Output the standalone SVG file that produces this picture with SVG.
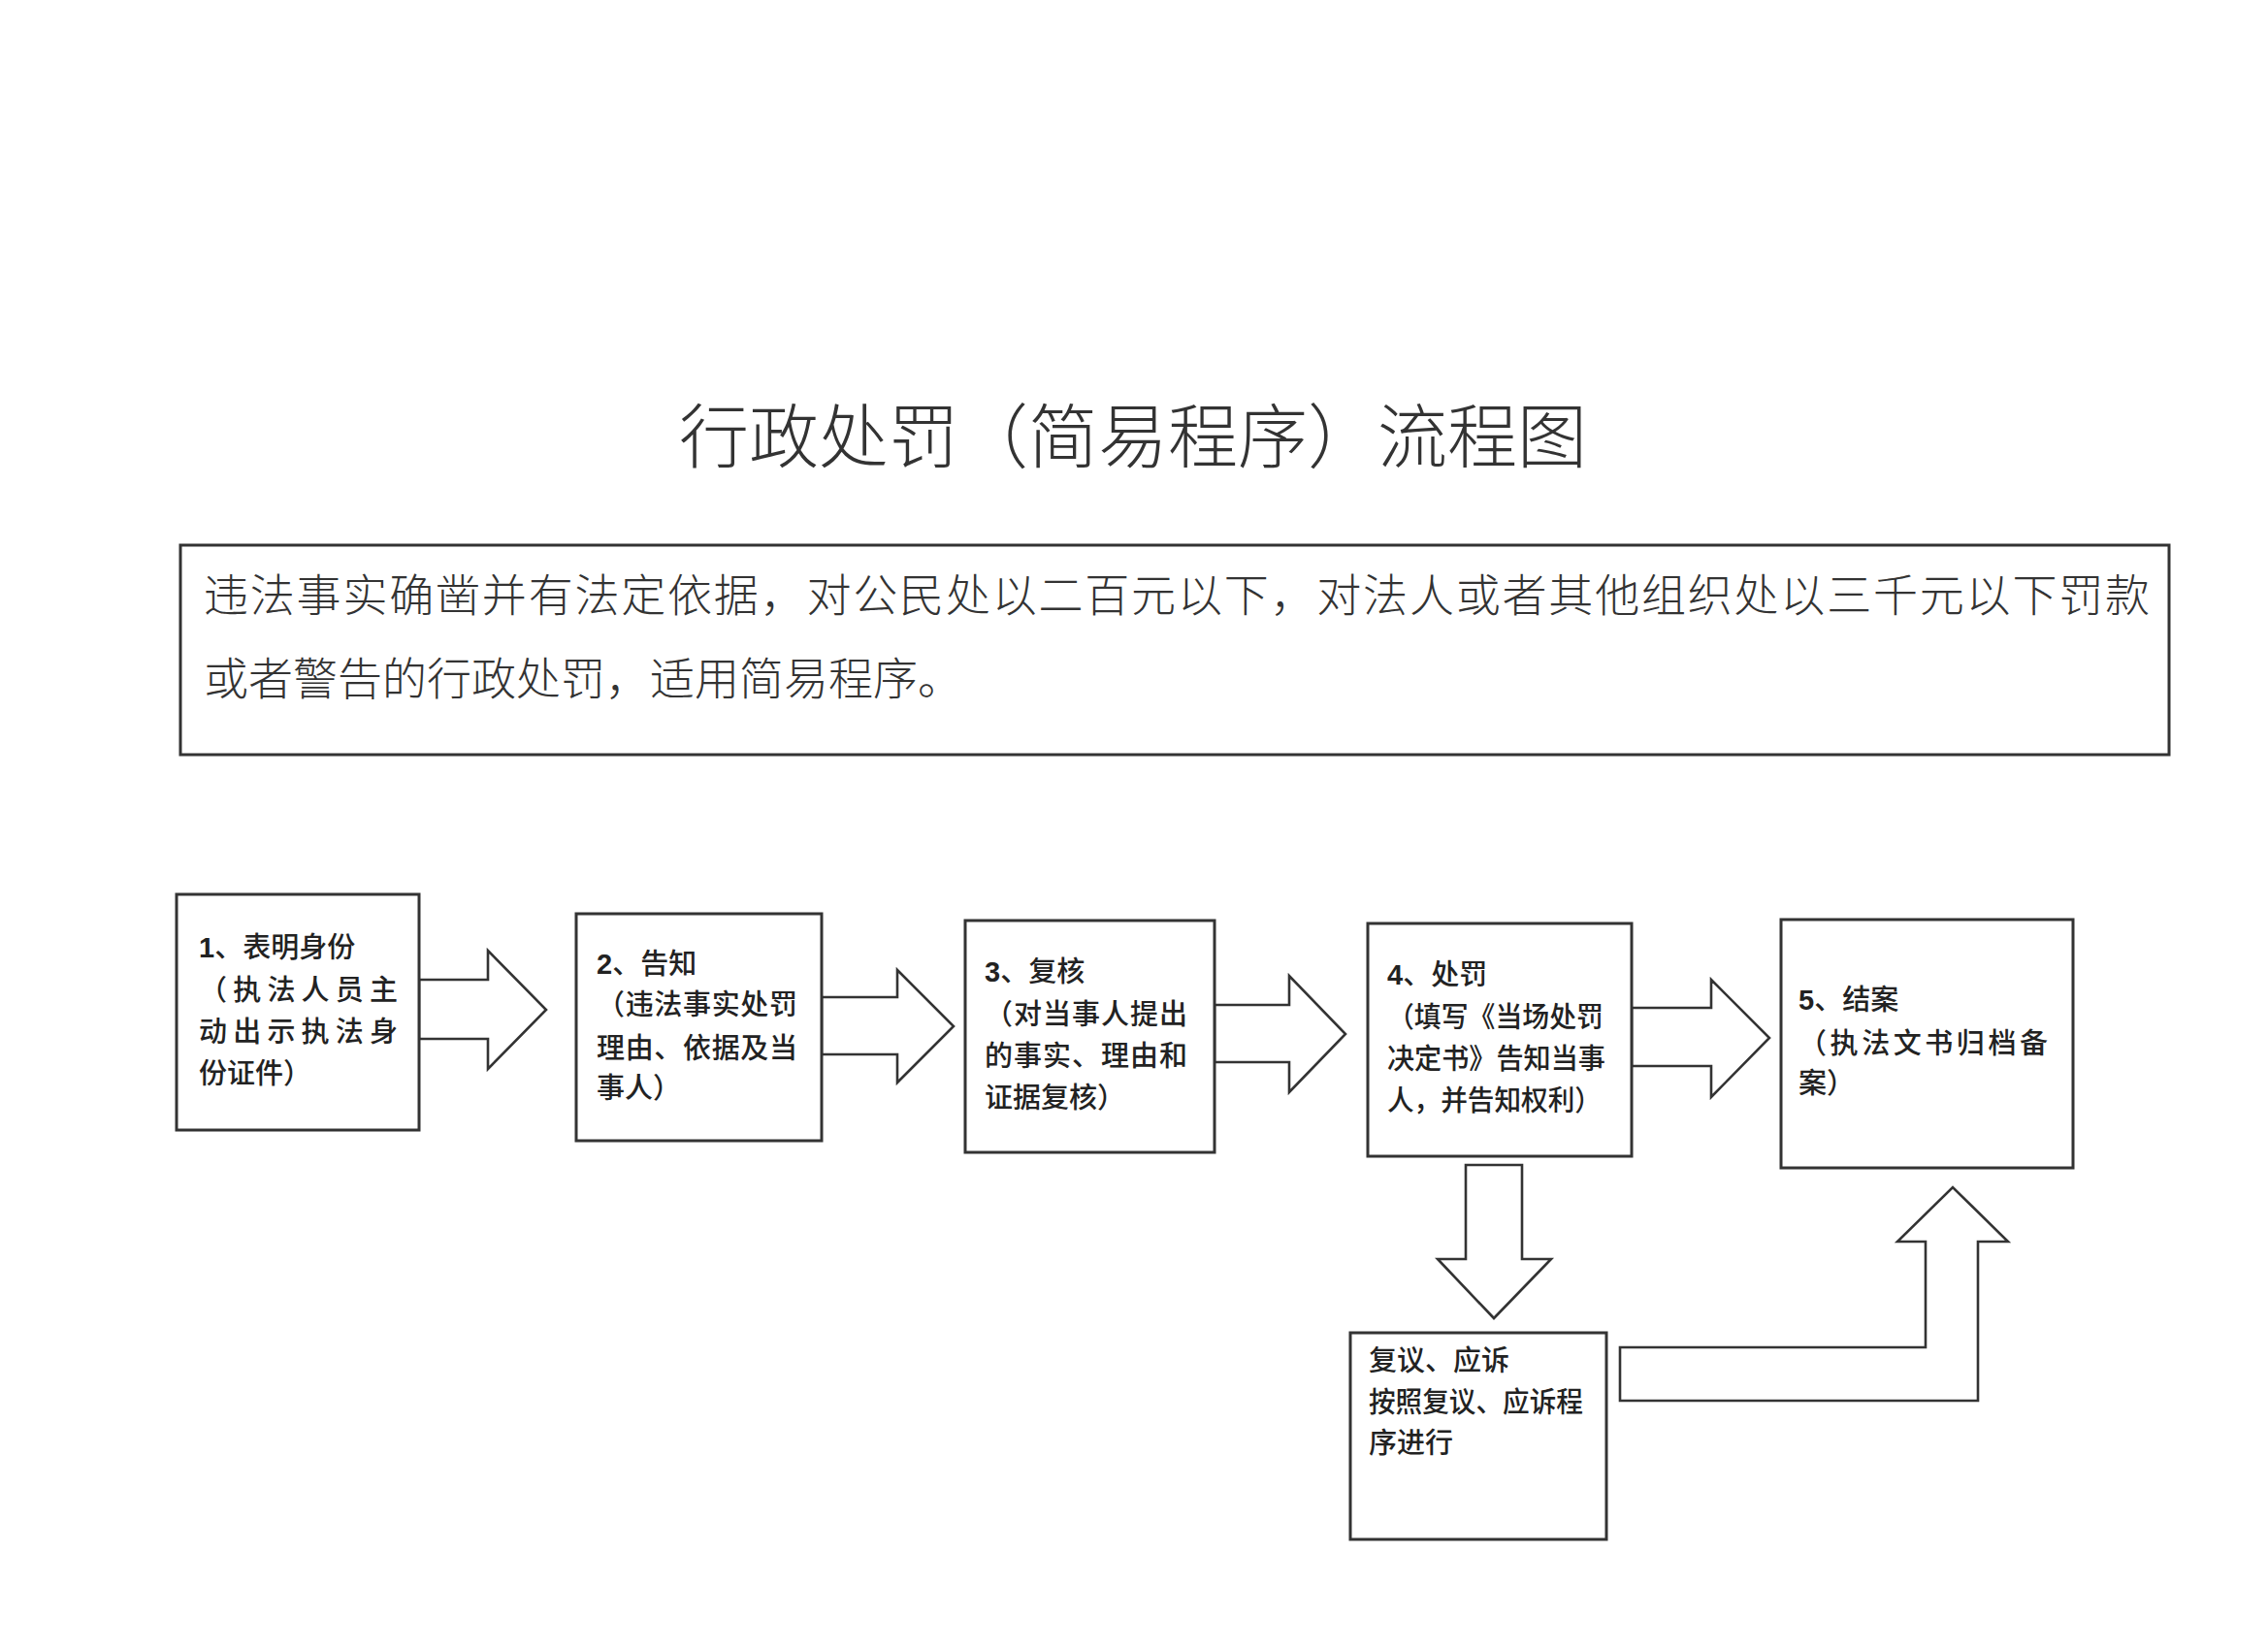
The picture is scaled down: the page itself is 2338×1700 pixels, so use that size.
<svg xmlns="http://www.w3.org/2000/svg" width="2338" height="1700" viewBox="0 0 2338 1700">
<style>
.box{fill:#fff;stroke:#333;stroke-width:3}
.arr{fill:#fff;stroke:#333;stroke-width:2.6;stroke-linejoin:miter}
.t{font-family:"Noto Sans CJK SC","Noto Sans",sans-serif;font-size:29px;fill:#222;font-weight:500}
.n{font-family:"Liberation Sans",Arial,sans-serif;font-weight:bold}
.title{font-family:"Noto Sans CJK SC",sans-serif;font-size:72px;fill:#333;font-weight:300}
.desc{font-family:"Noto Sans CJK SC",sans-serif;font-size:46px;fill:#333;font-weight:300}
</style>
<rect width="2338" height="1700" fill="#fff"/>
<text class="title" x="1168" y="476" text-anchor="middle">行政处罚（简易程序）流程图</text>
<g id="intro">
<rect class="box" x="186" y="562" width="2050" height="216" stroke-width="2.2"/>
<text class="desc" x="210" y="630" textLength="2006" lengthAdjust="spacing">违法事实确凿并有法定依据，对公民处以二百元以下，对法人或者其他组织处以三千元以下罚款</text>
<text class="desc" x="210" y="716">或者警告的行政处罚，适用简易程序。</text>
</g>
<g id="connectors">
<polygon class="arr" points="432,1010 503,1010 503,980 563,1041 503,1102 503,1071 432,1071"/>
<polygon class="arr" points="847,1028 925,1028 925,1000 983,1058 925,1116 925,1087 847,1087"/>
<polygon class="arr" points="1252,1036 1329,1036 1329,1006 1387,1066 1329,1126 1329,1095 1252,1095"/>
<polygon class="arr" points="1682,1039 1764,1039 1764,1010 1824,1070 1764,1131 1764,1099 1682,1099"/>
<polygon class="arr" points="1511,1201 1569,1201 1569,1298 1599,1298 1540,1359 1482,1298 1511,1298"/>
<polygon class="arr" points="1670,1389 1985,1389 1985,1280 1956,1280 2013,1224 2070,1280 2039,1280 2039,1444 1670,1444"/>
</g>
<g id="node1">
<rect class="box" x="182" y="922" width="250" height="243"/>
<text class="t" x="205" y="987"><tspan class="n">1</tspan>、表明身份</text>
<text class="t" x="205" y="1031" textLength="205" lengthAdjust="spacing">（执法人员主</text>
<text class="t" x="205" y="1074" textLength="205" lengthAdjust="spacing">动出示执法身</text>
<text class="t" x="205" y="1117">份证件）</text>
</g>
<g id="node2">
<rect class="box" x="594" y="942" width="253" height="234"/>
<text class="t" x="615" y="1004"><tspan class="n">2</tspan>、告知</text>
<text class="t" x="615" y="1046" textLength="207" lengthAdjust="spacing">（违法事实处罚</text>
<text class="t" x="615" y="1091" textLength="207" lengthAdjust="spacing">理由、依据及当</text>
<text class="t" x="615" y="1132">事人）</text>
</g>
<g id="node3">
<rect class="box" x="995" y="949" width="257" height="239"/>
<text class="t" x="1015" y="1012"><tspan class="n">3</tspan>、复核</text>
<text class="t" x="1015" y="1056" textLength="209" lengthAdjust="spacing">（对当事人提出</text>
<text class="t" x="1015" y="1099" textLength="209" lengthAdjust="spacing">的事实、理由和</text>
<text class="t" x="1015" y="1142">证据复核）</text>
</g>
<g id="node4">
<rect class="box" x="1410" y="952" width="272" height="240"/>
<text class="t" x="1430" y="1015"><tspan class="n">4</tspan>、处罚</text>
<text class="t" x="1430" y="1059" textLength="223" lengthAdjust="spacingAndGlyphs">（填写《当场处罚</text>
<text class="t" x="1430" y="1102" textLength="225" lengthAdjust="spacingAndGlyphs">决定书》告知当事</text>
<text class="t" x="1430" y="1145" textLength="221" lengthAdjust="spacingAndGlyphs">人，并告知权利）</text>
</g>
<g id="node5">
<rect class="box" x="1836" y="948" width="301" height="256"/>
<text class="t" x="1854" y="1041"><tspan class="n">5</tspan>、结案</text>
<text class="t" x="1854" y="1086" textLength="257" lengthAdjust="spacing">（执法文书归档备</text>
<text class="t" x="1854" y="1127">案）</text>
</g>
<g id="node6">
<rect class="box" x="1392" y="1374" width="264" height="213" stroke-width="2.2"/>
<text class="t" x="1411" y="1413">复议、应诉</text>
<text class="t" x="1411" y="1456" textLength="221" lengthAdjust="spacingAndGlyphs">按照复议、应诉程</text>
<text class="t" x="1411" y="1498">序进行</text>
</g>
</svg>
